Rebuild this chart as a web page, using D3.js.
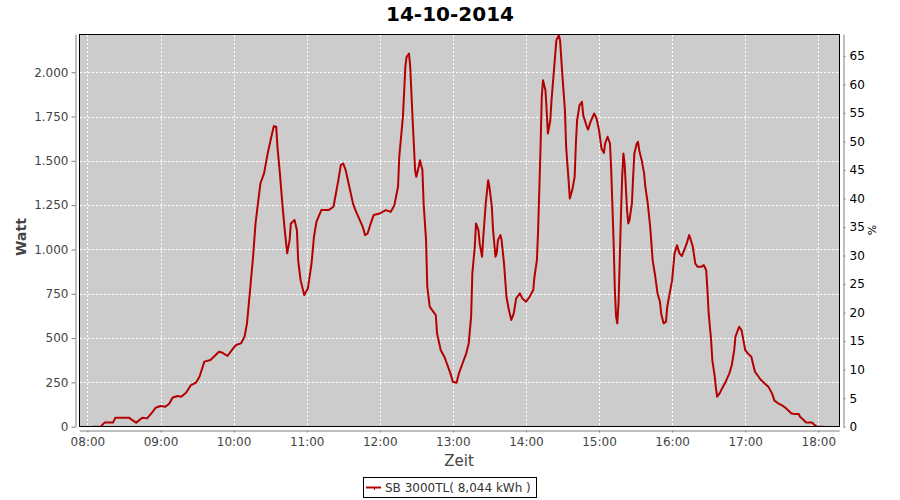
<!DOCTYPE html>
<html><head><meta charset="utf-8">
<script src="https://cdn.jsdelivr.net/npm/d3@7"></script>
<style>body{margin:0;background:#fff}svg{display:block}</style>
</head><body>
<svg id="c" width="900" height="500"></svg>
<script>
const chartTitle = "14-10-2014";
const seriesName = "SB 3000TL( 8,044 kWh )";
const xLabel = "Zeit";
const yLabel = "Watt";
const y2Label = "%";
const times = ["08:04","08:11","08:14","08:21","08:23","08:34","08:36","08:40","08:45","08:49","08:53","08:56","09:00","09:04","09:07","09:10","09:14","09:17","09:21","09:25","09:29","09:32","09:36","09:41","09:48","09:51","09:55","09:59","10:02","10:06","10:09","10:11","10:13","10:16","10:18","10:20","10:22","10:25","10:28","10:31","10:33","10:35","10:36","10:38","10:40","10:42","10:44","10:46","10:47","10:50","10:52","10:53","10:55","10:58","11:01","11:04","11:06","11:08","11:12","11:18","11:22","11:24","11:26","11:28","11:30","11:32","11:35","11:38","11:40","11:43","11:46","11:48","11:50","11:53","11:55","12:00","12:05","12:09","12:12","12:15","12:16","12:19","12:21","12:22","12:24","12:25","12:27","12:29","12:30","12:32","12:33","12:35","12:36","12:38","12:39","12:41","12:43","12:46","12:47","12:50","12:53","12:55","12:58","13:00","13:03","13:05","13:08","13:11","13:13","13:15","13:16","13:18","13:19","13:21","13:22","13:24","13:25","13:27","13:29","13:30","13:32","13:33","13:35","13:36","13:37","13:39","13:40","13:42","13:44","13:46","13:48","13:50","13:52","13:55","13:57","14:00","14:03","14:06","14:07","14:09","14:10","14:12","14:13","14:14","14:16","14:17","14:18","14:20","14:21","14:23","14:25","14:27","14:28","14:30","14:32","14:33","14:35","14:36","14:38","14:40","14:41","14:42","14:44","14:46","14:47","14:50","14:51","14:53","14:56","14:58","15:00","15:02","15:04","15:05","15:07","15:09","15:10","15:11","15:12","15:13","15:14","15:15","15:16","15:17","15:18","15:19","15:20","15:21","15:22","15:23","15:24","15:25","15:27","15:28","15:29","15:31","15:32","15:33","15:35","15:37","15:38","15:40","15:42","15:43","15:44","15:46","15:48","15:50","15:51","15:53","15:55","15:56","15:58","16:00","16:02","16:04","16:06","16:08","16:10","16:12","16:14","16:15","16:17","16:19","16:21","16:24","16:26","16:28","16:29","16:30","16:32","16:33","16:35","16:36","16:37","16:39","16:41","16:44","16:47","16:49","16:51","16:52","16:54","16:55","16:57","16:58","17:00","17:02","17:05","17:08","17:11","17:13","17:16","17:19","17:22","17:24","17:27","17:30","17:33","17:35","17:38","17:41","17:44","17:45","17:48","17:50","17:55","17:57","17:59","18:05"];
const watts = [0,0,23,23,51,51,41,23,51,47,79,107,117,113,128,165,173,169,192,235,248,282,367,376,423,417,399,436,461,470,508,583,733,959,1147,1260,1372,1429,1542,1636,1696,1692,1579,1429,1260,1109,978,1053,1147,1166,1109,940,827,743,780,921,1072,1156,1222,1222,1241,1316,1391,1476,1485,1448,1354,1260,1222,1175,1128,1081,1090,1156,1194,1203,1222,1212,1250,1354,1523,1748,2030,2086,2105,2030,1729,1448,1410,1467,1504,1448,1260,1053,790,677,658,630,527,433,395,358,301,254,248,301,358,414,470,621,865,1015,1147,1109,1034,959,1072,1260,1391,1354,1241,1109,959,978,1053,1081,1053,921,733,658,602,639,724,752,724,705,733,771,846,940,1109,1579,1861,1955,1899,1786,1654,1729,1842,2012,2181,2209,2181,1974,1786,1579,1391,1288,1335,1410,1598,1729,1814,1833,1758,1692,1677,1720,1767,1739,1673,1570,1545,1598,1636,1598,1448,1241,1034,771,621,583,696,940,1194,1410,1542,1485,1354,1222,1147,1166,1260,1410,1542,1598,1607,1560,1504,1429,1354,1260,1128,1034,940,855,752,705,639,583,593,677,752,827,978,1024,978,963,997,1034,1081,1062,1015,921,902,902,912,883,771,639,489,376,282,216,169,188,216,254,301,348,433,508,545,564,545,508,433,414,395,310,282,263,244,226,188,147,132,122,107,94,75,71,71,56,38,23,23,9,0,0];
const hourTicks = ["08:00","09:00","10:00","11:00","12:00","13:00","14:00","15:00","16:00","17:00","18:00"];
const wattTicks = [0,250,500,750,1000,1250,1500,1750,2000];
const pctTicks = [0,5,10,15,20,25,30,35,40,45,50,55,60,65];
const timeDomain = ["07:53:20","18:17:15"];
const wattDomain = [0, 2214];
const pctDomain = [0, 68.77];

const svg = d3.select("#c");
const font = "'DejaVu Sans', sans-serif";
const P = {l:79.3, r:839.3, t:34.3, b:426.7};
const pHM = d3.timeParse("%H:%M"), pHMS = d3.timeParse("%H:%M:%S");
const x = d3.scaleTime().domain(timeDomain.map(pHMS)).range([P.l, P.r]);
const y = d3.scaleLinear().domain(wattDomain).range([P.b, P.t]);
const y2 = d3.scaleLinear().domain(pctDomain).range([P.b, P.t]);
const de = d3.formatLocale({decimal:",", thousands:".", grouping:[3], currency:["","€"]});
const fmtW = de.format(",d");

// plot background
svg.append("rect").attr("x",79.5).attr("y",34.5).attr("width",760).attr("height",392)
  .attr("fill","#cccccc");
// grid
const g = svg.append("g");
hourTicks.forEach(h=>{
  const xv = Math.round(x(pHM(h)))+0.5;
  g.append("line").attr("x1",xv).attr("x2",xv).attr("y1",35).attr("y2",426)
   .attr("stroke","#fff").attr("stroke-dasharray","2,2");
});
wattTicks.slice(1).forEach(w=>{
  const yv = Math.round(y(w))+0.5;
  g.append("line").attr("x1",80).attr("x2",839).attr("y1",yv).attr("y2",yv)
   .attr("stroke","#fff").attr("stroke-dasharray","2,2");
});
// clip & line
svg.append("clipPath").attr("id","pc").append("rect").attr("x",79.5).attr("y",34.5).attr("width",760).attr("height",392);
const data = times.map((t,i)=>({t:pHM(t), w:watts[i]}));
svg.append("path").datum(data).attr("clip-path","url(#pc)")
  .attr("d", d3.line().x(d=>x(d.t)).y(d=>y(d.w)))
  .attr("fill","none").attr("stroke","#b40000").attr("stroke-width",2).attr("stroke-linejoin","round");
// frame
svg.append("rect").attr("x",79.5).attr("y",34.5).attr("width",760).attr("height",392)
  .attr("fill","none").attr("stroke","#000").attr("stroke-width",1);

// axes
function styleAxis(sel, col){
  sel.select(".domain").attr("stroke","#808080");
  sel.selectAll(".tick line").attr("stroke","#808080");
  sel.selectAll(".tick text").attr("fill",col).style("font-family",font).style("font-size","12px");
}
const ax = svg.append("g").attr("transform","translate(75.5,0)")
  .call(d3.axisLeft(y).tickValues(wattTicks).tickFormat(fmtW).tickSize(4).tickPadding(3).tickSizeOuter(0));
styleAxis(ax,"#444");
const bx = svg.append("g").attr("transform","translate(0,430.5)")
  .call(d3.axisBottom(x).tickValues(hourTicks.map(pHM)).tickFormat(d3.timeFormat("%H:%M")).tickSize(2).tickPadding(5).tickSizeOuter(0));
styleAxis(bx,"#444");
const rx = svg.append("g").attr("transform","translate(843.5,0)")
  .call(d3.axisRight(y2).tickValues(pctTicks).tickSize(2).tickPadding(4).tickSizeOuter(0));
styleAxis(rx,"#000");

// labels
svg.append("text").attr("x",450).attr("y",21).attr("text-anchor","middle")
  .style("font-family",font).style("font-size","20px").style("font-weight","bold").attr("fill","#000").text(chartTitle);
svg.append("text").attr("x",459).attr("y",466).attr("text-anchor","middle")
  .style("font-family",font).style("font-size","15px").attr("fill","#444").text(xLabel);
svg.append("text").attr("transform","translate(26,237) rotate(-90)").attr("text-anchor","middle")
  .style("font-family",font).style("font-size","14px").style("font-weight","bold").attr("fill","#444").text(yLabel);
svg.append("text").attr("transform","translate(876,230) rotate(-90)").attr("text-anchor","middle")
  .style("font-family",font).style("font-size","11px").attr("fill","#000").text(y2Label);

// legend
const lg = svg.append("g");
lg.append("rect").attr("x",363.5).attr("y",477.5).attr("width",173).attr("height",20)
  .attr("fill","#fff").attr("stroke","#000");
lg.append("line").attr("x1",366).attr("x2",381).attr("y1",487.5).attr("y2",487.5).attr("stroke","#b40000").attr("stroke-width",2);
lg.append("line").attr("x1",374.5).attr("x2",374.5).attr("y1",487).attr("y2",490).attr("stroke","#b40000").attr("stroke-width",1);
lg.append("text").attr("x",385).attr("y",492).style("font-family",font).style("font-size","12px")
  .attr("fill","#333").text(seriesName);
</script>
</body></html>
